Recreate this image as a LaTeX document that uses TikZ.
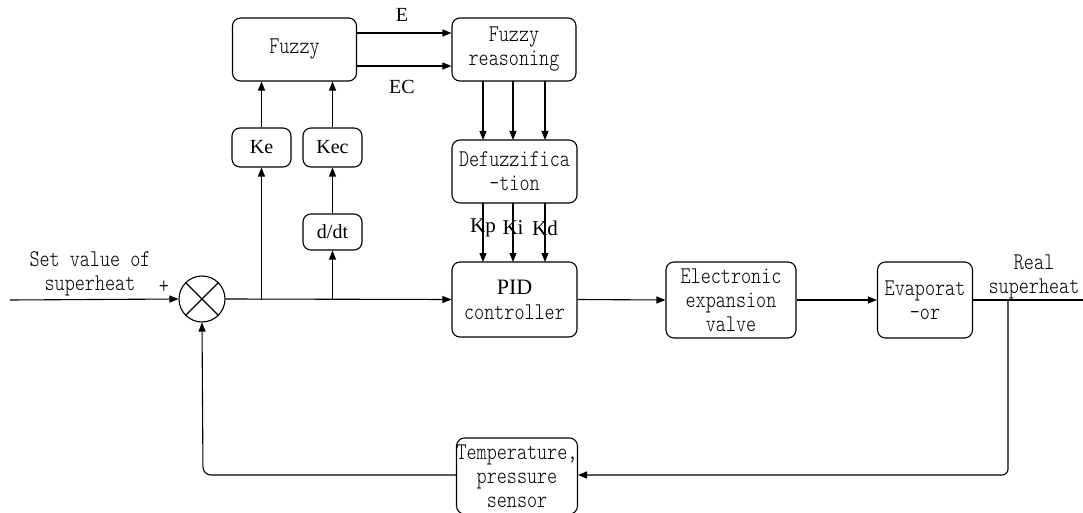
\documentclass[tikz,border=0pt]{standalone}
\usepackage{fontspec}
\setmainfont{Liberation Serif}
\newfontfamily\simf[FakeStretch=0.8]{lmmonolt10-regular.otf}
\usetikzlibrary{arrows.meta}
\tikzset{
  blk/.style={draw, line width=1.1pt, rounded corners=8pt, align=center, inner sep=0pt},
  mono/.style={font=\simf\fontsize{24}{24}\selectfont},
  tms/.style={font=\fontsize{20}{22}\selectfont},
  arr/.style={line width=1.1pt, -{Triangle[length=9pt,width=7pt]}},
  ln/.style={line width=1.1pt},
  lbl/.style={inner sep=0pt, align=center}
}
\begin{document}
\begin{tikzpicture}[x=1pt,y=-1pt]
\useasboundingbox (0,0) rectangle (1083,513);
% blocks
\node[blk,mono,minimum width=124pt,minimum height=63pt] (fuzzy) at (294.5,49.5) {Fuzzy};
\node[blk,mono,minimum width=124pt,minimum height=63pt] (freason) at (514,49.5) {Fuzzy\\reasoning};
\node[blk,mono,minimum width=125pt,minimum height=63pt] (defuzz) at (514.5,171.5) {Defuzzifica\\-tion};
\node[blk,tms,minimum width=59pt,minimum height=39pt] (ke) at (261.5,147.5) {Ke};
\node[blk,tms,minimum width=59pt,minimum height=39pt] (kec) at (332.5,147.5) {Kec};
\node[blk,tms,minimum width=59pt,minimum height=36pt] (ddt) at (332.5,232) {d/dt};
\node[blk,font=\fontsize{22}{25}\selectfont,minimum width=125pt,minimum height=75pt] (pid) at (514.5,299.5) {PID\\{\simf\fontsize{24}{25}\selectfont controller}};
\node[blk,mono,minimum width=130pt,minimum height=76pt] (eev) at (731,300) {Electronic\\expansion\\valve};
\node[blk,mono,minimum width=95pt,minimum height=76pt] (evap) at (925,300) {Evaporat\\-or};
\node[blk,mono,minimum width=106pt,minimum height=76pt] (sensor) at (517,476) {Temperature,\\pressure\\sensor};
\node[draw, line width=1.1pt, circle, minimum size=46pt, inner sep=0pt] (sum) at (202,299) {};
\draw[ln] (sum.north west) -- (sum.south east) (sum.north east) -- (sum.south west);
% coordinates
\coordinate (in) at (10,300);
\coordinate (out) at (1083,300);
\coordinate (fb) at (1008,300);
\coordinate (fbc) at (1008,475);
\coordinate (fbl) at (203,475);
\coordinate (bke) at (261.5,300);
\coordinate (bdt) at (332.5,300);
% input
\draw[arr] (in) -- (sum.west);
\node[lbl,mono] (setlbl) at (90,274) {Set value of\\superheat};
\node[lbl,mono] (plus) at (164,287) {+};
% main chain
\draw[arr] (sum.east) -- (pid.west);
\draw[arr] (bke) -- (ke.south);
\draw[arr] (bdt) -- (ddt.south);
\draw[arr] (ddt.north) -- (kec.south);
\draw[arr] (ke.north) -- (ke.north |- fuzzy.south);
\draw[arr] (kec.north) -- (kec.north |- fuzzy.south);
\draw[arr] (fuzzy.east |- 0,33) -- (freason.west |- 0,33);
\draw[arr] (fuzzy.east |- 0,66) -- (freason.west |- 0,66);
\node[lbl,tms] (elbl) at (402,15) {E};
\node[lbl,tms] (eclbl) at (402,87) {EC};
\foreach \xx in {483,513,545}{
  \draw[arr] (\xx,81) -- (\xx,140);
  \draw[arr] (\xx,203) -- (\xx,262);
}
\node[lbl,font=\fontsize{21}{22}\selectfont] (kp) at (483,228) {Kp};
\node[lbl,font=\fontsize{21}{22}\selectfont] (ki) at (513,228) {Ki};
\node[lbl,font=\fontsize{21}{22}\selectfont] (kd) at (545,228) {Kd};
\draw[arr] (pid.east) -- (eev.west);
\draw[arr] (eev.east) -- (evap.west);
\draw[ln] (evap.east) -- (out);
\node[lbl,mono] (reallbl) at (1034,277) {Real\\superheat};
% feedback
\draw[arr, rounded corners=6pt] (fb) -- (fbc) -- (sensor.east |- fbc);
\draw[arr, rounded corners=8pt] (sensor.west |- fbc) -- (fbl) -- (sum.south);
\end{tikzpicture}
\end{document}
